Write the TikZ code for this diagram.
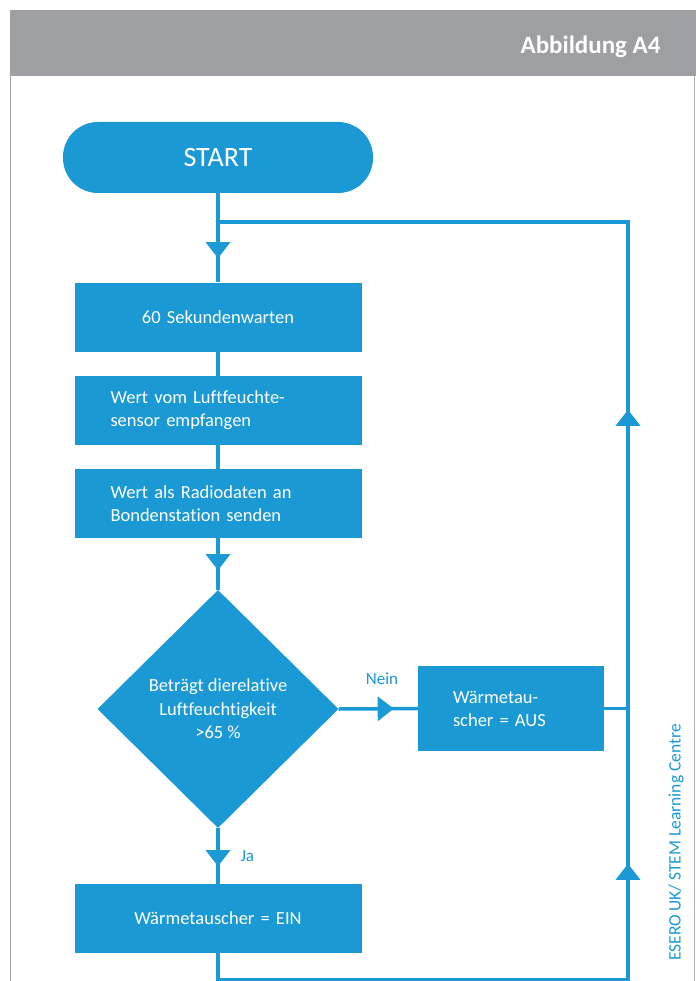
\documentclass[tikz,border=0pt]{standalone}
\usepackage{fontspec}
\setmainfont{Carlito}[Ligatures=NoCommon]
\usetikzlibrary{shapes.geometric,arrows.meta,decorations.markings}
\definecolor{esablue}{HTML}{1A99D5}
\definecolor{hdrgray}{HTML}{9D9FA2}
\begin{document}
\begin{tikzpicture}[x=1pt,y=-1pt,
  stepbox/.style={fill=esablue, draw=none, text=white, minimum width=287pt, minimum height=69pt,
    inner xsep=36pt, inner ysep=0pt, text width=215pt, font=\fontsize{18.5}{23}\selectfont},
  leftbox/.style={stepbox, align=left},
  centerbox/.style={stepbox, align=center},
  conn/.style={draw=esablue, line width=3.5pt},
  tipdown/.style={postaction={decorate}, decoration={markings, mark=at position #1 with {\arrow{Triangle[width=24pt,length=16pt]}}}},
  lbl/.style={text=esablue, font=\fontsize{17}{20}\selectfont}
]
\useasboundingbox (0,0) rectangle (696,981);
\fill[white] (0,0) rectangle (696,981);
% header and page frame
\fill[hdrgray] (10,10) rectangle (696,76);
\node[anchor=east, text=white, font=\fontsize{25}{30}\bfseries\selectfont] (title) at (664,47) {Abbildung A4};
\draw[hdrgray, line width=1.5pt] (10.5,76) -- (10.5,981);
\draw[hdrgray!80, line width=1.2pt] (694.5,76) -- (694.5,981);

% nodes
\node[fill=esablue, text=white, minimum width=310pt, minimum height=71pt, rounded corners=35pt,
  font=\fontsize{28}{32}\selectfont] (start) at (218,157.5) {START};
\node[centerbox] (b1) at (218,317) {60 Sekundenwarten};
\node[leftbox] (b2) at (218,410.5) {Wert vom Luftfeuchte-\\sensor empfangen};
\node[leftbox] (b3) at (218,503.5) {Wert als Radiodaten an\\Bondenstation senden};
\node[diamond, fill=esablue, text=white, minimum width=241pt, minimum height=238pt, inner sep=0pt,
  align=center, font=\fontsize{18.5}{23.5}\selectfont] (dia) at (218,709)
  {Beträgt dierelative\\Luftfeuchtigkeit\\>65 \%};
\node[fill=esablue, text=white, minimum width=186pt, minimum height=85pt, inner xsep=35pt, inner ysep=0pt,
  text width=116pt, align=left, font=\fontsize{18.5}{23}\selectfont] (b4) at (511,708.5)
  {Wärmetau-\\scher = AUS};
\node[centerbox] (b5) at (218,918.5) {Wärmetauscher = EIN};

\node[lbl] (nein) at (382,679) {Nein};
\node[lbl, anchor=west] (ja) at (237,856) {Ja};

\coordinate (looptr) at (628,222);
\coordinate (loopbr) at (628,980);
\coordinate (loopbl) at (218,980);

% connectors
\draw[conn, tipdown=65pt] (start.south) -- (b1.north);
\draw[conn] (b1.south) -- (b2.north);
\draw[conn] (b2.south) -- (b3.north);
\draw[conn, tipdown=32pt] (b3.south) -- (dia.north);
\draw[conn, tipdown=38pt] (dia.south) -- (b5.north);
\draw[conn, tipdown=55pt] (dia.east) -- (b4.west);
\draw[conn] (b4.east) -- (b4.east -| looptr);
\draw[conn, miter limit=10, postaction={decorate}, decoration={markings,
    mark=at position 553pt with {\arrow{Triangle[width=24pt,length=16pt]}},
    mark=at position 1007pt with {\arrow{Triangle[width=24pt,length=16pt]}}}]
  (b5.south) -- (loopbl) -- (loopbr) -- (looptr) -- (start.south |- looptr);

% vertical credit
\node[rotate=90, anchor=west, text=esablue, font=\fontsize{17.5}{20}\selectfont] (credit) at (676,964)
  {ESERO\,UK/ STEM Learning Centre};
\end{tikzpicture}
\end{document}
